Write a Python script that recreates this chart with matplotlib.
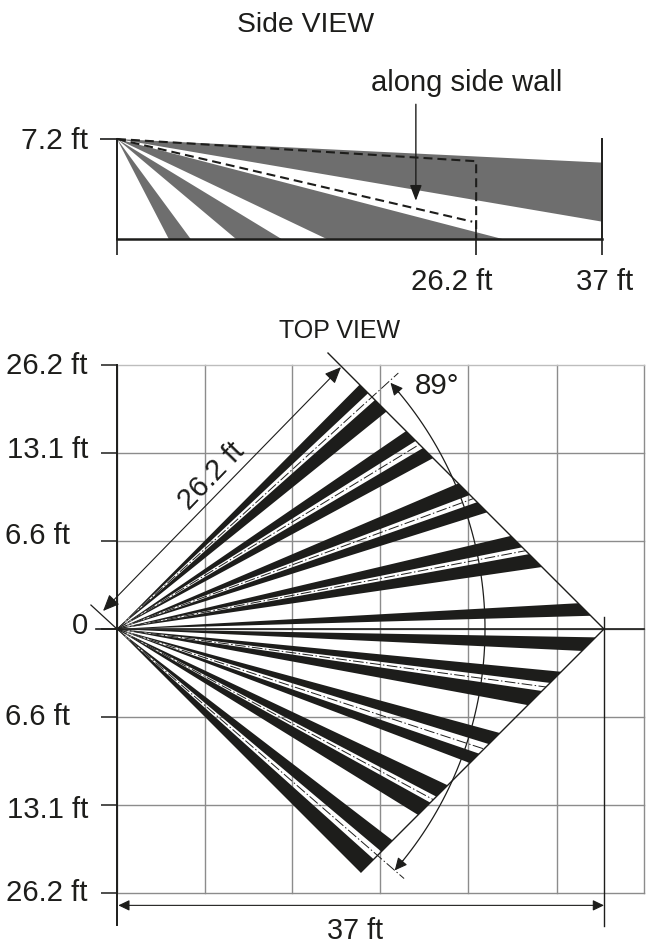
import numpy as np
import matplotlib
matplotlib.use("Agg")
import matplotlib.pyplot as plt
from matplotlib.transforms import ScaledTranslation

plt.rcParams['font.family'] = ['Liberation Sans', 'DejaVu Sans']

W, H = 652, 946
INK = '#1d1d1b'
GREY = '#6e6e6e'
GRID = '#8c8c8c'
FS = 21.2

# ---- side view data (ft) ----
side_xlim = (0, 37)
side_ylim = (0, 7.2)
side_xticks = [0, 27.4, 37]
side_xticklabels = ['', '26.2 ft', '37 ft']
side_yticks = [7.2]
side_yticklabels = ['7.2 ft']
far_beam_heights = [5.5, 1.25]          # height at x=37 of the long beam
ground_beams = [(3.95, 5.62), (9.08, 12.55), (16.0, 29.4)]  # ground hit ranges
wall_x = 27.4
wall_top_y = 5.6
wall_bottom_y = 1.25
wall_arrow_x = 22.8
wall_arrow_tip_y = 2.75
wall_arrow_start_y = 9.7

# ---- top view data (ft, degrees) ----
top_grid_x = [0, 6.69, 13.3, 20.0, 26.7, 33.4, 40.04]
top_yticks = [20.06, 13.37, 6.69, 0, -6.69, -13.37, -20.06]
top_yticklabels = ['26.2 ft', '13.1 ft', '6.6 ft', '0', '6.6 ft', '13.1 ft', '26.2 ft']
label_dx = [0, 0, -18, 0, -18, 0, 0]
label_dy = [2, 6, 8, 6, 3, -2, 3]
beam_pairs = [(45.2, 43.2, 41.6, 38.9), (34.4, 32.2, 30.6, 28.4),
              (23.1, 20.8, 19.4, 17.5), (13.3, 11.4, 10.3, 8.3),
              (-5.5, -7.1, -8.3, -10.5), (-15.2, -17.2, -19.0, -20.8),
              (-25.3, -27.7, -29.0, -31.7), (-37.5, -40.1, -41.9, -45.0)]
single_beams = [(3.2, 1.6), (-1.0, -2.7)]
reach_ft = 37.0
coverage_arc_radius = 27.96
coverage_angles = (42.0, -41.0)
outer_center_angles = (42.3, -41.0)
outer_center_radius = 28.9
boundary_top_x = 16.03
boundary_bottom_x = 18.54


def axes_px(l, t, r, b):
    return fig.add_axes([l / W, 1 - b / H, (r - l) / W, (b - t) / H])


def shift(label, dx_px, dy_px):
    label.set_transform(label.get_transform() +
                        ScaledTranslation(dx_px / 100, dy_px / 100, fig.dpi_scale_trans))


def arrow(ax, start, end, both=False, lw=0.8, scale=14, hl=0.72, hw=0.31):
    style = '<|-|>' if both else '-|>'
    ax.annotate('', xy=end, xytext=start, annotation_clip=False,
                arrowprops=dict(arrowstyle=f'{style},head_length={hl},head_width={hw}',
                                mutation_scale=scale, lw=lw, color=INK,
                                shrinkA=0, shrinkB=0))


fig = plt.figure(figsize=(W / 100, H / 100), dpi=100, facecolor='white')

# ================ SIDE VIEW ================
ax = axes_px(117, 139, 602, 239)
ax.set_xlim(*side_xlim)
ax.set_ylim(*side_ylim)
for s in ax.spines.values():
    s.set_visible(False)
top = side_ylim[1]
ax.fill([0, side_xlim[1], side_xlim[1]], [top, far_beam_heights[0], far_beam_heights[1]],
        color=GREY, lw=0, clip_on=False, zorder=1)
for a, b in ground_beams:
    ax.fill([0, a, b], [top, 0, 0], color=GREY, lw=0, clip_on=False, zorder=1)
ax.plot([0, wall_x, wall_x], [top, wall_top_y, 0], color=INK, lw=1.5,
        dashes=(4.3, 2.4), clip_on=False, zorder=3)
ax.plot([0, wall_x - 0.3], [top, wall_bottom_y], color=INK, lw=1.5,
        dashes=(4.3, 2.4), clip_on=False, zorder=3)
ax.plot(side_xlim, [0, 0], color=INK, lw=1.8, clip_on=False, zorder=4)
ax.plot([0, 0], [top, 0], color=INK, lw=1.4, clip_on=False, zorder=4)
ax.plot([37, 37], [top, 0], color=INK, lw=1.4, clip_on=False, zorder=4)
ax.plot([wall_x, wall_x], [wall_bottom_y, 0], color=INK, lw=1.2, clip_on=False, zorder=4)
ax.set_xticks(side_xticks)
ax.set_xticklabels(side_xticklabels, fontsize=FS, color=INK)
ax.set_yticks(side_yticks)
ax.set_yticklabels(side_yticklabels, fontsize=FS + 0.5, color=INK)
ax.tick_params(axis='x', length=11.5, width=1.2, color=INK, pad=6)
ax.tick_params(axis='y', length=12, width=1.2, color=INK, pad=9)
for lab, dx, dy in zip(ax.get_xticklabels(), (0, -24, 3), (0, -5, -5)):
    shift(lab, dx, dy)
for lab in ax.get_yticklabels():
    shift(lab, 0, 1)
arrow(ax, (wall_arrow_x, wall_arrow_start_y), (wall_arrow_x, wall_arrow_tip_y),
      lw=1.0, scale=10, hl=0.95, hw=0.36)
fig.text(466.5 / W, 1 - 83 / H, 'along side wall', ha='center', va='center', fontsize=FS - 0.2, color=INK)
fig.text(306 / W, 1 - 25 / H, 'Side VIEW', ha='center', va='center', fontsize=20.4, color=INK)
fig.text(340 / W, 1 - 331 / H, 'TOP VIEW', ha='center', va='center', fontsize=18, color=INK)

# ================ TOP VIEW ================
ax = axes_px(117, 365, 644, 893)
ax.set_xlim(0, 40.04)
ax.set_ylim(-20.06, 20.06)
for s in ax.spines.values():
    s.set_visible(False)
ax.set_axisbelow(True)
ax.set_xticks(top_grid_x)
ax.set_xticklabels([])
ax.set_yticks(top_yticks)
ax.set_yticklabels(top_yticklabels, fontsize=FS, color=INK)
ax.grid(True, color=GRID, lw=1.0, clip_on=False)
ax.get_ygridlines()[0].set_color('#bdbdbd')
ax.tick_params(axis='x', length=0)
ax.tick_params(axis='y', length=11.5, width=1.1, color=INK, pad=9.4)
for lab, dx, dy in zip(ax.get_yticklabels(), label_dx, label_dy):
    shift(lab, dx, dy)


def boundary_radius(deg):
    t = np.radians(deg)
    return reach_ft / (np.cos(t) + np.abs(np.sin(t)))


def wedge(a, b):
    xs, ys = [0], [0]
    for deg in (a, b):
        r = boundary_radius(deg)
        xs.append(r * np.cos(np.radians(deg)))
        ys.append(r * np.sin(np.radians(deg)))
    ax.fill(xs, ys, color=INK, lw=0, zorder=3, clip_on=False)


for a1, a2, b1, b2 in beam_pairs:
    wedge(a1, a2)
    wedge(b1, b2)
    mid = (a2 + b1) / 2
    if round(mid) in (42, -41):
        r = outer_center_radius
        mid = outer_center_angles[0] if mid > 0 else outer_center_angles[1]
    else:
        r = boundary_radius(mid)
    ax.plot([0, r * np.cos(np.radians(mid))], [0, r * np.sin(np.radians(mid))],
            color=INK, lw=0.7, dashes=(11, 2.5, 1.5, 2.5), clip_on=False, zorder=4)
for a, b in single_beams:
    wedge(a, b)

# frame lines
ax.plot([-1.6, 40.04], [0, 0], color=INK, lw=1.2, clip_on=False, zorder=5)
ax.plot([0, 0], [20.06, -22.5], color=INK, lw=1.4, clip_on=False, zorder=5)
ax.plot([37, 37], [0.9, -22.6], color=INK, lw=1.0, clip_on=False, zorder=5)
# beam boundaries
ax.plot([boundary_top_x, reach_ft, boundary_bottom_x],
        [reach_ft - boundary_top_x, 0, -(reach_ft - boundary_bottom_x)],
        color=INK, lw=1.0, clip_on=False, zorder=5)
ax.plot([-1.98, 0], [1.82, 0], color=INK, lw=0.9, clip_on=False, zorder=5)

# dimensions
arrow(ax, (-1.06, 1.37), (17.02, 19.9), both=True)
arrow(ax, (0.1, -21.0), (37, -21.0), both=True, scale=9, hl=0.75, hw=0.36)
theta = np.radians(np.linspace(coverage_angles[0] - 1, coverage_angles[1] + 1, 80))
ax.plot(coverage_arc_radius * np.cos(theta), coverage_arc_radius * np.sin(theta),
        color=INK, lw=0.9, clip_on=False, zorder=5)
for sgn, ang in zip((1, -1), coverage_angles):
    tip = np.radians(ang)
    prev = np.radians(ang - sgn * 2)
    arrow(ax, (coverage_arc_radius * np.cos(prev), coverage_arc_radius * np.sin(prev)),
          (coverage_arc_radius * np.cos(tip), coverage_arc_radius * np.sin(tip)),
          lw=0.8, scale=10, hl=0.75, hw=0.36)

ax.text(7.2, 11.6, '26.2 ft', rotation=46, ha='center', va='center', fontsize=FS, color=INK,
        rotation_mode='anchor')
ax.text(24.3, 18.5, '89°', ha='center', va='center', fontsize=FS, color=INK)
fig.text(355 / W, 1 - 931 / H, '37 ft', ha='center', va='center', fontsize=FS - 0.4, color=INK)

fig.savefig('out.png', dpi=100)
